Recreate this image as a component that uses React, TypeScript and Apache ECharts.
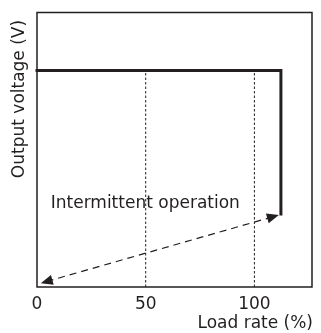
import React, { useEffect, useRef } from "react";
import * as echarts from "echarts";

const xTicks = [0, 50, 100];
const xMax = 126.5;
const yMax = 100;
const voltageCurve: [number, number][] = [
  [0, 78.9],
  [112.2, 78.9],
  [112.2, 26.6],
];
const guideXs = [50, 100];
const guideTop = 78.9;
const arrowFrom: [number, number] = [4.4, 2.0];
const arrowTo: [number, number] = [108.6, 25.6];
const xAxisTitle = "Load rate (%)";
const yAxisTitle = "Output voltage (V)";
const noteText = "Intermittent operation";

const FONT = "DejaVu Sans";
const INK = "#231f20";

export default function App() {
  const ref = useRef<HTMLDivElement>(null);
  useEffect(() => {
    if (!ref.current) return;
    const chart = echarts.init(ref.current, null, { renderer: "svg" });
    const guideSeries = guideXs.map((gx) => ({
      type: "line",
      data: [
        [gx, 0],
        [gx, guideTop],
      ],
      symbol: "none",
      silent: true,
      lineStyle: { color: INK, width: 1, type: [2.5, 2] },
      z: 1,
    }));
    chart.setOption({
      animation: false,
      grid: {
        left: 37,
        right: 9,
        top: 12.5,
        bottom: 46,
        show: true,
        borderColor: INK,
        borderWidth: 1.5,
        backgroundColor: "transparent",
      },
      xAxis: {
        type: "value",
        min: 0,
        max: xMax,
        interval: 50,
        axisLine: { show: false },
        axisTick: { show: false },
        splitLine: { show: false },
        axisLabel: {
          show: true,
          margin: 9,
          fontSize: 17,
          lineHeight: 14,
          fontFamily: FONT,
          color: INK,
          showMaxLabel: false,
          formatter: (v: number) => (xTicks.includes(v) ? String(v) : ""),
        },
      },
      yAxis: {
        type: "value",
        min: 0,
        max: yMax,
        axisLine: { show: false },
        axisTick: { show: false },
        splitLine: { show: false },
        axisLabel: { show: false },
      },
      series: [
        ...guideSeries,
        {
          type: "line",
          data: voltageCurve,
          symbol: "none",
          silent: true,
          lineStyle: { color: INK, width: 3, cap: "square", join: "miter" },
          z: 3,
          markLine: {
            silent: true,
            symbol: ["triangle", "triangle"],
            symbolSize: [10, 12],
            label: { show: false },
            lineStyle: { color: INK, width: 1.2, type: [7, 5] },
            data: [[{ coord: arrowFrom }, { coord: arrowTo }]],
          },
        },
      ],
      graphic: [
        {
          type: "text",
          x: 145.3,
          y: 201.5,
          style: {
            text: noteText,
            fontSize: 17,
            fontFamily: FONT,
            fill: INK,
            align: "center",
            verticalAlign: "middle",
          },
        },
        {
          type: "text",
          x: 313,
          y: 321.5,
          style: {
            text: xAxisTitle,
            fontSize: 17,
            lineHeight: 14,
            fontFamily: FONT,
            fill: INK,
            align: "right",
            verticalAlign: "middle",
          },
        },
        {
          type: "text",
          x: 17.5,
          y: 99,
          rotation: Math.PI / 2,
          style: {
            text: yAxisTitle,
            fontSize: 17,
            fontFamily: FONT,
            fill: INK,
            align: "center",
            verticalAlign: "middle",
          },
        },
      ],
    });
    return () => chart.dispose();
  }, []);
  return (
    <div
      ref={ref}
      style={{ position: "fixed", left: 0, top: 0, width: 321, height: 333 }}
    />
  );
}
